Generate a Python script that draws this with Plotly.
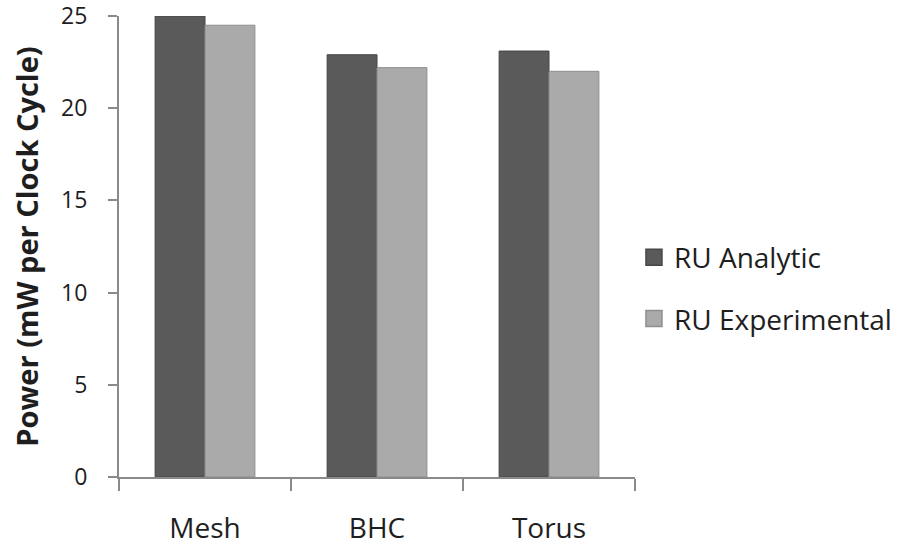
import plotly.graph_objects as go

# Power per clock cycle for each topology
topologies = ["Mesh", "BHC", "Torus"]
ru_analytic = [25.0, 22.9, 23.1]
ru_experimental = [24.5, 22.2, 22.0]
y_ticks = [0, 5, 10, 15, 20, 25]

series = [
    ("RU Analytic", ru_analytic, "#5a5a5a", "#474747"),
    ("RU Experimental", ru_experimental, "#aaaaaa", "#8e8e8e"),
]

FONT = "Open Sans"
AXIS_GREY = "#8a8a8a"
TEXT = "#1e1e1e"

fig = go.Figure()
for i, (name, values, fill, edge) in enumerate(series):
    fig.add_trace(go.Bar(
        x=topologies, y=values, name=name, legendgroup=f"g{i}",
        showlegend=False,
        marker=dict(color=fill, line=dict(color=edge, width=1)),
    ))
    # larger square swatch for the legend entry
    fig.add_trace(go.Scatter(
        x=[None], y=[None], mode="markers", name=name, legendgroup=f"g{i}",
        marker=dict(symbol="square", size=16, color=fill,
                    line=dict(color=edge, width=1.5)),
        hoverinfo="skip",
    ))

fig.update_layout(
    width=903, height=545,
    margin=dict(l=119, r=268, t=16, b=68, autoexpand=False),
    paper_bgcolor="white", plot_bgcolor="white",
    barmode="group", bargap=0.42, bargroupgap=0,
    font=dict(family=FONT, color=TEXT),
    showlegend=True,
    legend=dict(
        x=0.998, xanchor="left", y=0.41, yanchor="middle",
        font=dict(family=FONT, size=28, color=TEXT),
        traceorder="grouped", tracegroupgap=22,
        bgcolor="rgba(0,0,0,0)",
    ),
)

fig.update_xaxes(
    type="category", automargin=False,
    showline=True, linecolor=AXIS_GREY, linewidth=2,
    ticks="outside", tickson="boundaries", ticklen=12, tickwidth=2, tickcolor=AXIS_GREY,
    tickfont=dict(family=FONT, size=28, color=TEXT),
    ticklabelstandoff=25, ticklabeloverflow="allow",
    showgrid=False, zeroline=False,
)
fig.update_yaxes(
    range=[0, 25], tickvals=y_ticks, automargin=False,
    showline=True, linecolor=AXIS_GREY, linewidth=2,
    ticks="outside", ticklen=9, tickwidth=2, tickcolor=AXIS_GREY,
    tickfont=dict(family=FONT, size=23, color=TEXT),
    ticklabelstandoff=16, ticklabeloverflow="allow",
    showgrid=False, zeroline=False,
    title=dict(text="<b>Power (mW per Clock Cycle)</b>",
               font=dict(family=FONT, size=29, color=TEXT), standoff=14),
)

fig.write_html("out.html")
